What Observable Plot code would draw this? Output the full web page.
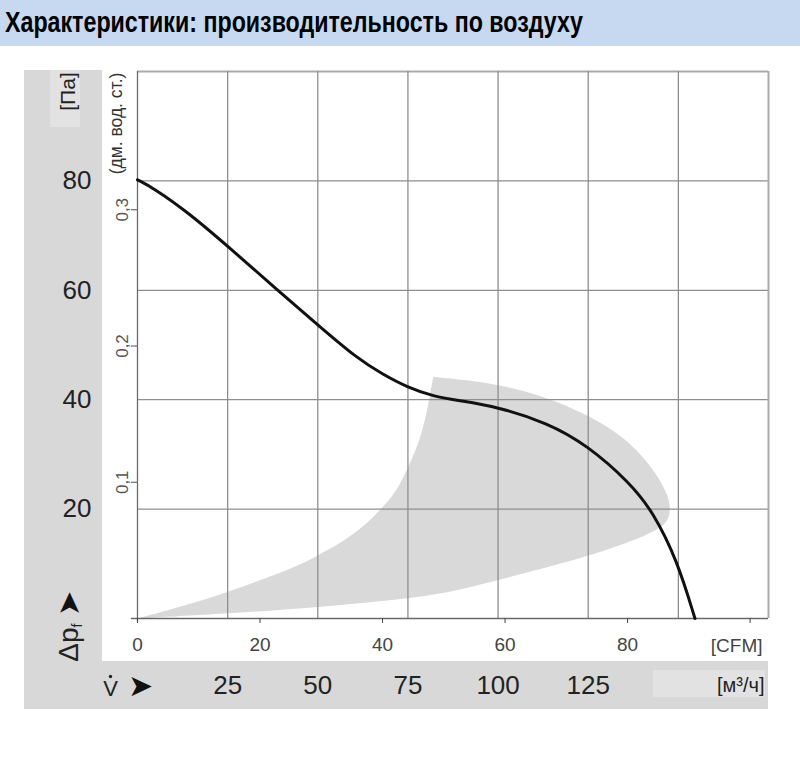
<!DOCTYPE html>
<html>
<head>
<meta charset="utf-8">
<script src="https://cdn.jsdelivr.net/npm/d3@7"></script>
<script src="https://cdn.jsdelivr.net/npm/@observablehq/plot@0.6"></script>
<style>
  body { margin: 0; background: #fff; }
  #wrap { position: relative; width: 800px; height: 762px; overflow: hidden; font-family: "Liberation Sans", Arial, sans-serif; }
  #title { position: absolute; left: 0; top: 0; width: 800px; height: 46px; background: #c6d9f0; }
  #title span { position: absolute; left: 5px; top: 6px; white-space: nowrap; font: bold 29px "Liberation Sans Narrow", "Liberation Sans", Arial, sans-serif; color: #000; transform-origin: 0 0; }
  #panel { position: absolute; left: 24px; top: 70px; width: 744px; height: 639px; background: #d8d8d8; }
  #inner { position: absolute; left: 102px; top: 70px; width: 666px; height: 591px; background: #fff; }
  #boxPa { position: absolute; left: 50px; top: 70px; width: 30px; height: 57px; background: #e2e2e2; }
  #boxM3 { position: absolute; left: 653px; top: 670px; width: 112px; height: 27px; background: #e2e2e2; }
  #chart { position: absolute; left: 0; top: 0; }
</style>
</head>
<body>
<div id="wrap">
  <div id="title"><span id="titleText">Характеристики: производительность по воздуху</span></div>
  <div id="panel"></div>
  <div id="inner"></div>
  <div id="boxPa"></div>
  <div id="boxM3"></div>
  <div id="chart"></div>
</div>
<script>
// ---- data ----
const cfmTicks = [0, 20, 40, 60, 80, 100];
const m3hTicks = [25, 50, 75, 100, 125];
const m3hGrid = [25, 50, 75, 100, 125, 150, 175];
const paTicks = [20, 40, 60, 80];
const paGrid = [20, 40, 60, 80];
const paTop = 100;
const inH2OTicks = [0.1, 0.2, 0.3];

// characteristic curve: flow [CFM] vs static pressure [Pa]
const curveCFM = [0, 2.6, 8.2, 14.7, 22.8, 29.4, 35.9, 40.1, 44.0, 48.3, 52.7, 58.7, 66.9, 73.4, 80.4, 84.2, 88.1, 91.0];
const curvePa  = [80.2, 78.7, 74.3, 68.1, 60.1, 53.7, 47.5, 44.6, 42.3, 40.6, 39.8, 38.7, 35.8, 31.7, 24.8, 19.4, 10.6, 0];

// shaded operating region outline (corner point repeated to keep it sharp)
const regionCFM = [0, 7.3, 14.7, 26.6, 29.4, 32.0, 34.7, 37.5, 40.1, 42.4, 44.0, 45.7, 47.0, 47.8, 48.3, 48.3, 48.3, 52.7, 58.7, 66.9, 77.7, 83.2, 86.7, 87.2, 85.2, 73.4, 58.7, 52.7, 44.0, 26.6, 14.7, 0];
const regionPa  = [0, 2.2, 4.8, 9.7, 11.6, 13.0, 15.0, 17.4, 20.4, 23.5, 27.2, 31.4, 36.3, 41.3, 44.2, 44.2, 44.2, 43.7, 42.8, 40.6, 35.0, 29.0, 22.9, 18.7, 15.9, 11.2, 7.0, 5.2, 3.5, 1.8, 0.9, 0];

const CFM_PER_M3H = 1 / 1.699;
const PA_PER_INH2O = 249.09;

const curve = curveCFM.map((x, i) => ({cfm: x, pa: curvePa[i]}));
const region = regionCFM.map((x, i) => ({cfm: x, pa: regionPa[i]}));
const xMax = 175 * CFM_PER_M3H;

const font = '"Liberation Sans", Arial, sans-serif';
const mid = {textAnchor: "middle", lineAnchor: "middle"};

const chart = Plot.plot({
  width: 800,
  height: 762,
  marginLeft: 137,
  marginRight: 32,
  marginTop: 71,
  marginBottom: 144,
  x: {domain: [0, xMax], label: null},
  y: {domain: [0, 100], label: null},
  style: {background: "transparent", fontFamily: font, overflow: "visible"},
  marks: [
    Plot.line(region, {x: "cfm", y: "pa", fill: "#d9d9d9", stroke: "none", curve: "basis"}),
    Plot.ruleY(paGrid, {stroke: "#8e8e8e", strokeWidth: 1.3}),
    Plot.ruleY([paTop], {stroke: "#ababab", strokeWidth: 2}),
    Plot.ruleX(m3hGrid.slice(0, -1).map(v => v * CFM_PER_M3H), {y1: 0, y2: 100, stroke: "#8e8e8e", strokeWidth: 1.3}),
    Plot.ruleX([m3hGrid[m3hGrid.length - 1] * CFM_PER_M3H], {y1: 0, y2: 100, stroke: "#ababab", strokeWidth: 2}),
    // axis lines
    Plot.ruleY([0], {x1: -1, x2: xMax, stroke: "#6a6a6a", strokeWidth: 1.3}),
    Plot.ruleX([0], {y1: -0.7, y2: 100, stroke: "#6a6a6a", strokeWidth: 1.3}),
    // inch water column ticks
    Plot.ruleY(inH2OTicks.map(v => v * PA_PER_INH2O), {x1: -1, x2: 0, stroke: "#6a6a6a", strokeWidth: 1.2}),
    Plot.text(inH2OTicks, {x: 0, y: d => d * PA_PER_INH2O, text: d => d.toFixed(1).replace(".", ","), rotate: -90, dx: -15, fontSize: 17, fill: "#555", ...mid}),
    // curve
    Plot.line(curve, {x: "cfm", y: "pa", stroke: "#111", strokeWidth: 3, curve: "basis"}),
    // axes
    Plot.axisX(cfmTicks, {label: null, tickSize: 5, tickPadding: 14, fontSize: 19, color: "#444", tickFormat: d => d === 100 ? "" : String(d)}),
    Plot.axisX(m3hTicks.map(v => v * CFM_PER_M3H), {label: null, tickSize: 0, tickPadding: 57, fontSize: 26, color: "#222", tickFormat: d => String(Math.round(d / CFM_PER_M3H))}),
    Plot.axisY(paTicks, {label: null, tickSize: 0, tickPadding: 46, fontSize: 26, color: "#222", tickFormat: d => String(d)}),
    // unit labels
    Plot.text(["[Па]"], {frameAnchor: "top-left", dx: -69, dy: 20, rotate: -90, fontSize: 21, fill: "#222", ...mid}),
    Plot.text(["(дм. вод. ст.)"], {frameAnchor: "top-left", dx: -21, dy: 52, rotate: -90, fontSize: 17.5, fill: "#333", ...mid}),
    Plot.text(["Δp"], {frameAnchor: "bottom-left", dx: -68, dy: 26, rotate: -90, fontSize: 28, fill: "#222", ...mid}),
    Plot.text(["f"], {frameAnchor: "bottom-left", dx: -60, dy: 7, rotate: -90, fontSize: 14, fill: "#222", ...mid}),
    Plot.text(["➤"], {frameAnchor: "bottom-left", dx: -68, dy: -15, rotate: -90, fontSize: 30, fill: "#111", ...mid}),
    Plot.text(["V"], {frameAnchor: "bottom-left", dx: -27, dy: 70, fontSize: 22, fill: "#222", ...mid}),
    Plot.dot([0], {x: 0, y: 0, dx: -27, dy: 58, r: 1.7, fill: "#222", stroke: "none"}),
    Plot.text(["➤"], {frameAnchor: "bottom-left", dx: 3, dy: 68, fontSize: 30, fill: "#111", ...mid}),
    Plot.text(["[CFM]"], {frameAnchor: "bottom-right", dx: -6, dy: 27, textAnchor: "end", lineAnchor: "middle", fontSize: 19, fill: "#444"}),
    Plot.text(["[м³/ч]"], {frameAnchor: "bottom-right", dx: -4, dy: 67, textAnchor: "end", lineAnchor: "middle", fontSize: 20, fill: "#222"})
  ]
});
document.getElementById("chart").appendChild(chart);

// fit title to its original width
const t = document.getElementById("titleText");
const w = t.getBoundingClientRect().width;
if (w > 0) t.style.transform = `scaleX(${578 / w})`;
</script>
</body>
</html>
